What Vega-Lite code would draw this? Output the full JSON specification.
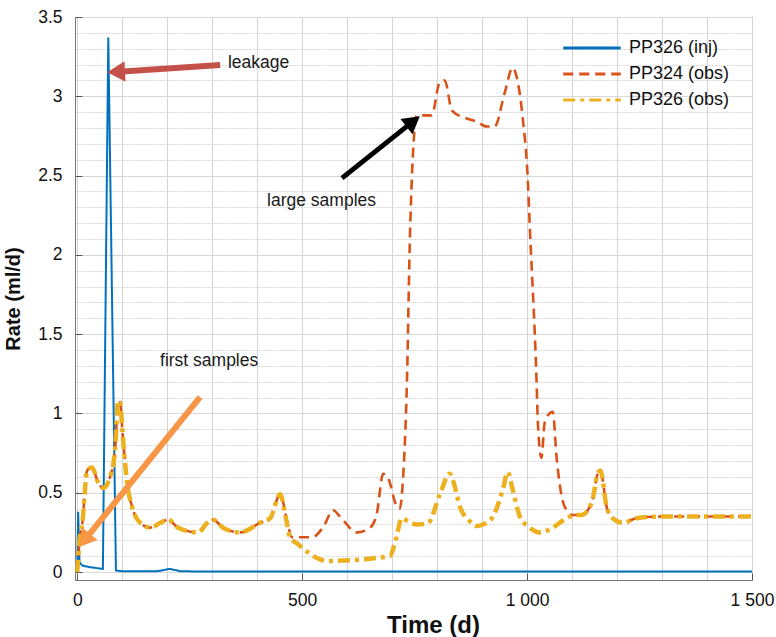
{
  "$schema": "https://vega.github.io/schema/vega-lite/v6.json",
  "width": 677,
  "height": 563,
  "autosize": {"type": "none"},
  "padding": {"left": 75, "top": 17, "right": 24, "bottom": 57},
  "background": "white",
  "config": {
    "font": "Liberation Sans",
    "view": {"stroke": "#8a8a8a", "strokeWidth": 1}
  },
  "datasets": {
    "lines": [
      {"series": "PP326 (inj)", "t": 0, "rate": 0},
      {"series": "PP326 (inj)", "t": 2, "rate": 0.38},
      {"series": "PP326 (inj)", "t": 5, "rate": 0.06},
      {"series": "PP326 (inj)", "t": 12, "rate": 0.04},
      {"series": "PP326 (inj)", "t": 30, "rate": 0.03},
      {"series": "PP326 (inj)", "t": 57, "rate": 0.02},
      {"series": "PP326 (inj)", "t": 69, "rate": 3.37},
      {"series": "PP326 (inj)", "t": 86, "rate": 0.01},
      {"series": "PP326 (inj)", "t": 100, "rate": 0.005},
      {"series": "PP326 (inj)", "t": 180, "rate": 0.006},
      {"series": "PP326 (inj)", "t": 205, "rate": 0.02},
      {"series": "PP326 (inj)", "t": 230, "rate": 0.005},
      {"series": "PP326 (inj)", "t": 300, "rate": 0.003},
      {"series": "PP326 (inj)", "t": 1500, "rate": 0.003},

      {"series": "PP324 (obs)", "t": 0, "rate": 0},
      {"series": "PP324 (obs)", "t": 5, "rate": 0.2},
      {"series": "PP324 (obs)", "t": 11, "rate": 0.3},
      {"series": "PP324 (obs)", "t": 22, "rate": 0.64},
      {"series": "PP324 (obs)", "t": 33, "rate": 0.66},
      {"series": "PP324 (obs)", "t": 47, "rate": 0.56},
      {"series": "PP324 (obs)", "t": 58, "rate": 0.53},
      {"series": "PP324 (obs)", "t": 73, "rate": 0.6},
      {"series": "PP324 (obs)", "t": 84, "rate": 0.77},
      {"series": "PP324 (obs)", "t": 91, "rate": 1.08},
      {"series": "PP324 (obs)", "t": 95, "rate": 1.07},
      {"series": "PP324 (obs)", "t": 102, "rate": 0.83},
      {"series": "PP324 (obs)", "t": 111, "rate": 0.56},
      {"series": "PP324 (obs)", "t": 122, "rate": 0.41},
      {"series": "PP324 (obs)", "t": 140, "rate": 0.31},
      {"series": "PP324 (obs)", "t": 162, "rate": 0.28},
      {"series": "PP324 (obs)", "t": 191, "rate": 0.32},
      {"series": "PP324 (obs)", "t": 202, "rate": 0.33},
      {"series": "PP324 (obs)", "t": 224, "rate": 0.28},
      {"series": "PP324 (obs)", "t": 269, "rate": 0.25},
      {"series": "PP324 (obs)", "t": 289, "rate": 0.31},
      {"series": "PP324 (obs)", "t": 302, "rate": 0.33},
      {"series": "PP324 (obs)", "t": 324, "rate": 0.28},
      {"series": "PP324 (obs)", "t": 362, "rate": 0.25},
      {"series": "PP324 (obs)", "t": 406, "rate": 0.31},
      {"series": "PP324 (obs)", "t": 429, "rate": 0.34},
      {"series": "PP324 (obs)", "t": 451, "rate": 0.49},
      {"series": "PP324 (obs)", "t": 466, "rate": 0.33},
      {"series": "PP324 (obs)", "t": 477, "rate": 0.22},
      {"series": "PP324 (obs)", "t": 522, "rate": 0.22},
      {"series": "PP324 (obs)", "t": 546, "rate": 0.28},
      {"series": "PP324 (obs)", "t": 569, "rate": 0.39},
      {"series": "PP324 (obs)", "t": 584, "rate": 0.35},
      {"series": "PP324 (obs)", "t": 622, "rate": 0.25},
      {"series": "PP324 (obs)", "t": 651, "rate": 0.28},
      {"series": "PP324 (obs)", "t": 666, "rate": 0.37},
      {"series": "PP324 (obs)", "t": 680, "rate": 0.62},
      {"series": "PP324 (obs)", "t": 690, "rate": 0.6},
      {"series": "PP324 (obs)", "t": 711, "rate": 0.41},
      {"series": "PP324 (obs)", "t": 717, "rate": 0.4},
      {"series": "PP324 (obs)", "t": 724, "rate": 0.58},
      {"series": "PP324 (obs)", "t": 733, "rate": 1.21},
      {"series": "PP324 (obs)", "t": 740, "rate": 2.16},
      {"series": "PP324 (obs)", "t": 755, "rate": 2.88},
      {"series": "PP324 (obs)", "t": 788, "rate": 2.88},
      {"series": "PP324 (obs)", "t": 806, "rate": 3.09},
      {"series": "PP324 (obs)", "t": 817, "rate": 3.1},
      {"series": "PP324 (obs)", "t": 833, "rate": 2.91},
      {"series": "PP324 (obs)", "t": 866, "rate": 2.86},
      {"series": "PP324 (obs)", "t": 888, "rate": 2.84},
      {"series": "PP324 (obs)", "t": 910, "rate": 2.81},
      {"series": "PP324 (obs)", "t": 928, "rate": 2.81},
      {"series": "PP324 (obs)", "t": 950, "rate": 3.02},
      {"series": "PP324 (obs)", "t": 968, "rate": 3.18},
      {"series": "PP324 (obs)", "t": 977, "rate": 3.12},
      {"series": "PP324 (obs)", "t": 990, "rate": 2.87},
      {"series": "PP324 (obs)", "t": 1002, "rate": 2.45},
      {"series": "PP324 (obs)", "t": 1006, "rate": 2.18},
      {"series": "PP324 (obs)", "t": 1021, "rate": 1.21},
      {"series": "PP324 (obs)", "t": 1024, "rate": 0.94},
      {"series": "PP324 (obs)", "t": 1032, "rate": 0.72},
      {"series": "PP324 (obs)", "t": 1039, "rate": 0.94},
      {"series": "PP324 (obs)", "t": 1050, "rate": 1.0},
      {"series": "PP324 (obs)", "t": 1057, "rate": 1.01},
      {"series": "PP324 (obs)", "t": 1066, "rate": 0.71},
      {"series": "PP324 (obs)", "t": 1079, "rate": 0.45},
      {"series": "PP324 (obs)", "t": 1088, "rate": 0.39},
      {"series": "PP324 (obs)", "t": 1101, "rate": 0.36},
      {"series": "PP324 (obs)", "t": 1110, "rate": 0.36},
      {"series": "PP324 (obs)", "t": 1121, "rate": 0.36},
      {"series": "PP324 (obs)", "t": 1144, "rate": 0.44},
      {"series": "PP324 (obs)", "t": 1157, "rate": 0.62},
      {"series": "PP324 (obs)", "t": 1163, "rate": 0.64},
      {"series": "PP324 (obs)", "t": 1177, "rate": 0.41},
      {"series": "PP324 (obs)", "t": 1190, "rate": 0.34},
      {"series": "PP324 (obs)", "t": 1213, "rate": 0.31},
      {"series": "PP324 (obs)", "t": 1243, "rate": 0.34},
      {"series": "PP324 (obs)", "t": 1300, "rate": 0.35},
      {"series": "PP324 (obs)", "t": 1500, "rate": 0.35},

      {"series": "PP326 (obs)", "t": 0, "rate": 0},
      {"series": "PP326 (obs)", "t": 5, "rate": 0.2},
      {"series": "PP326 (obs)", "t": 11, "rate": 0.3},
      {"series": "PP326 (obs)", "t": 22, "rate": 0.64},
      {"series": "PP326 (obs)", "t": 33, "rate": 0.66},
      {"series": "PP326 (obs)", "t": 47, "rate": 0.56},
      {"series": "PP326 (obs)", "t": 58, "rate": 0.53},
      {"series": "PP326 (obs)", "t": 73, "rate": 0.6},
      {"series": "PP326 (obs)", "t": 84, "rate": 0.77},
      {"series": "PP326 (obs)", "t": 91, "rate": 1.08},
      {"series": "PP326 (obs)", "t": 95, "rate": 1.07},
      {"series": "PP326 (obs)", "t": 102, "rate": 0.83},
      {"series": "PP326 (obs)", "t": 111, "rate": 0.56},
      {"series": "PP326 (obs)", "t": 122, "rate": 0.41},
      {"series": "PP326 (obs)", "t": 140, "rate": 0.31},
      {"series": "PP326 (obs)", "t": 162, "rate": 0.28},
      {"series": "PP326 (obs)", "t": 191, "rate": 0.32},
      {"series": "PP326 (obs)", "t": 202, "rate": 0.33},
      {"series": "PP326 (obs)", "t": 224, "rate": 0.28},
      {"series": "PP326 (obs)", "t": 269, "rate": 0.25},
      {"series": "PP326 (obs)", "t": 289, "rate": 0.31},
      {"series": "PP326 (obs)", "t": 302, "rate": 0.33},
      {"series": "PP326 (obs)", "t": 324, "rate": 0.28},
      {"series": "PP326 (obs)", "t": 362, "rate": 0.25},
      {"series": "PP326 (obs)", "t": 406, "rate": 0.31},
      {"series": "PP326 (obs)", "t": 429, "rate": 0.34},
      {"series": "PP326 (obs)", "t": 451, "rate": 0.49},
      {"series": "PP326 (obs)", "t": 466, "rate": 0.31},
      {"series": "PP326 (obs)", "t": 473, "rate": 0.22},
      {"series": "PP326 (obs)", "t": 489, "rate": 0.18},
      {"series": "PP326 (obs)", "t": 540, "rate": 0.08},
      {"series": "PP326 (obs)", "t": 555, "rate": 0.07},
      {"series": "PP326 (obs)", "t": 695, "rate": 0.1},
      {"series": "PP326 (obs)", "t": 706, "rate": 0.18},
      {"series": "PP326 (obs)", "t": 722, "rate": 0.34},
      {"series": "PP326 (obs)", "t": 735, "rate": 0.32},
      {"series": "PP326 (obs)", "t": 755, "rate": 0.3},
      {"series": "PP326 (obs)", "t": 780, "rate": 0.31},
      {"series": "PP326 (obs)", "t": 806, "rate": 0.49},
      {"series": "PP326 (obs)", "t": 828, "rate": 0.62},
      {"series": "PP326 (obs)", "t": 835, "rate": 0.58},
      {"series": "PP326 (obs)", "t": 851, "rate": 0.41},
      {"series": "PP326 (obs)", "t": 873, "rate": 0.32},
      {"series": "PP326 (obs)", "t": 888, "rate": 0.29},
      {"series": "PP326 (obs)", "t": 902, "rate": 0.3},
      {"series": "PP326 (obs)", "t": 924, "rate": 0.35},
      {"series": "PP326 (obs)", "t": 946, "rate": 0.52},
      {"series": "PP326 (obs)", "t": 957, "rate": 0.63},
      {"series": "PP326 (obs)", "t": 968, "rate": 0.52},
      {"series": "PP326 (obs)", "t": 984, "rate": 0.35},
      {"series": "PP326 (obs)", "t": 1006, "rate": 0.28},
      {"series": "PP326 (obs)", "t": 1028, "rate": 0.25},
      {"series": "PP326 (obs)", "t": 1057, "rate": 0.28},
      {"series": "PP326 (obs)", "t": 1088, "rate": 0.34},
      {"series": "PP326 (obs)", "t": 1110, "rate": 0.36},
      {"series": "PP326 (obs)", "t": 1121, "rate": 0.36},
      {"series": "PP326 (obs)", "t": 1144, "rate": 0.44},
      {"series": "PP326 (obs)", "t": 1157, "rate": 0.62},
      {"series": "PP326 (obs)", "t": 1163, "rate": 0.64},
      {"series": "PP326 (obs)", "t": 1177, "rate": 0.41},
      {"series": "PP326 (obs)", "t": 1190, "rate": 0.34},
      {"series": "PP326 (obs)", "t": 1213, "rate": 0.31},
      {"series": "PP326 (obs)", "t": 1243, "rate": 0.34},
      {"series": "PP326 (obs)", "t": 1300, "rate": 0.35},
      {"series": "PP326 (obs)", "t": 1500, "rate": 0.35}
    ],
    "arrows": [
      {"name": "leakage", "t": 317.6, "rate": 3.197, "t2": 93, "rate2": 3.155},
      {"name": "large", "t": 588.5, "rate": 2.484, "t2": 741.7, "rate2": 2.831},
      {"name": "first", "t": 273, "rate": 1.103, "t2": 20, "rate2": 0.214}
    ],
    "heads": [
      {"name": "leakage", "t": 93, "rate": 3.155},
      {"name": "large", "t": 741.7, "rate": 2.831},
      {"name": "first", "t": 20, "rate": 0.214}
    ],
    "labels": [
      {"label": "leakage", "t": 335, "rate": 3.21},
      {"label": "large samples", "t": 422, "rate": 2.34},
      {"label": "first samples", "t": 184, "rate": 1.33}
    ]
  },
  "encoding": {
    "x": {
      "field": "t",
      "type": "quantitative",
      "scale": {"domain": [-5, 1500], "nice": false, "zero": false},
      "axis": {
        "title": "Time (d)",
        "titleFontSize": 24,
        "titleFontWeight": "bold",
        "titleColor": "#111",
        "titlePadding": 5,
        "titleX": 358,
        "values": [0, 100, 200, 300, 400, 500, 600, 700, 800, 900, 1000, 1100, 1200, 1300, 1400, 1500],
        "labelExpr": "datum.value % 500 === 0 ? replace(format(datum.value, ','), ',', ' ') : ''",
        "labelFontSize": 17.5,
        "labelColor": "#111",
        "labelFlush": false,
        "labelPadding": 18,
        "tickSize": -7,
        "tickColor": "#555",
        "tickOpacity": {"condition": {"test": "datum.value % 500 === 0", "value": 1}, "value": 0},
        "domainColor": "#777",
        "grid": true,
        "gridColor": "#d4d4d4",
        "gridWidth": 1
      }
    },
    "y": {
      "field": "rate",
      "type": "quantitative",
      "scale": {"domain": [-0.05, 3.5], "nice": false, "zero": false},
      "axis": {
        "title": "Rate (ml/d)",
        "titleFontSize": 20,
        "titleFontWeight": "bold",
        "titleColor": "#111",
        "titlePadding": 14,
        "values": [0, 0.1, 0.2, 0.3, 0.4, 0.5, 0.6, 0.7, 0.8, 0.9, 1, 1.1, 1.2, 1.3, 1.4, 1.5, 1.6, 1.7, 1.8, 1.9, 2, 2.1, 2.2, 2.3, 2.4, 2.5, 2.6, 2.7, 2.8, 2.9, 3, 3.1, 3.2, 3.3, 3.4, 3.5],
        "labelExpr": "abs(datum.value * 2 - round(datum.value * 2)) < 1e-6 ? format(datum.value, '~g') : ''",
        "labelFontSize": 17.5,
        "labelColor": "#111",
        "labelFlush": false,
        "labelPadding": 20,
        "tickSize": -7,
        "tickColor": "#555",
        "tickOpacity": {"condition": {"test": "abs(datum.value * 2 - round(datum.value * 2)) < 1e-6", "value": 1}, "value": 0},
        "domainColor": "#777",
        "grid": true,
        "gridColor": "#d8d8d8",
        "gridDash": {"condition": {"test": "abs(datum.value * 2 - round(datum.value * 2)) < 1e-6", "value": []}, "value": [2, 1]},
        "gridWidth": 1
      }
    }
  },
  "layer": [
    {
      "data": {"name": "lines"},
      "transform": [{"filter": "datum.series === 'PP326 (inj)'"}],
      "mark": {"type": "line", "strokeWidth": 2, "interpolate": "linear"},
      "encoding": {
        "color": {
          "field": "series", "type": "nominal",
          "scale": {"domain": ["PP326 (inj)", "PP324 (obs)", "PP326 (obs)"], "range": ["#0072BD", "#D95319", "#EDB120"]},
          "legend": {
            "title": null, "orient": "none", "legendX": 504, "legendY": 18,
            "symbolType": "M-2.5,0H2.5", "symbolSize": 529, "symbolStrokeWidth": 3,
            "labelFontSize": 18, "labelColor": "#111", "labelFont": "Liberation Sans",
            "rowPadding": 4, "labelOffset": 24
          }
        },
        "strokeDash": {
          "field": "series", "type": "nominal",
          "scale": {"domain": ["PP326 (inj)", "PP324 (obs)", "PP326 (obs)"], "range": [[1, 0], [10, 6], [12, 5, 4, 5]]},
          "legend": {
            "title": null, "orient": "none", "legendX": 504, "legendY": 18,
            "symbolType": "M-2.5,0H2.5", "symbolSize": 529, "symbolStrokeWidth": 3,
            "labelFontSize": 18, "labelColor": "#111", "labelFont": "Liberation Sans",
            "rowPadding": 4, "labelOffset": 24
          }
        }
      }
    },
    {
      "data": {"name": "lines"},
      "transform": [{"filter": "datum.series === 'PP324 (obs)'"}],
      "mark": {"type": "line", "strokeWidth": 2.6, "interpolate": "monotone"},
      "encoding": {
        "color": {"field": "series", "type": "nominal"},
        "strokeDash": {"field": "series", "type": "nominal"}
      }
    },
    {
      "data": {"name": "lines"},
      "transform": [{"filter": "datum.series === 'PP326 (obs)'"}],
      "mark": {"type": "line", "strokeWidth": 4.5, "interpolate": "monotone"},
      "encoding": {
        "color": {"field": "series", "type": "nominal"},
        "strokeDash": {"field": "series", "type": "nominal"}
      }
    },
    {
      "data": {"name": "arrows"},
      "transform": [{"filter": "datum.name === 'leakage'"}],
      "mark": {"type": "rule", "color": "#C4504A", "strokeWidth": 6},
      "encoding": {"x2": {"field": "t2"}, "y2": {"field": "rate2"}}
    },
    {
      "data": {"name": "heads"},
      "transform": [{"filter": "datum.name === 'leakage'"}],
      "mark": {"type": "point", "shape": "triangle", "filled": true, "opacity": 1, "color": "#C4504A", "size": 420, "angle": 267},
      "encoding": {}
    },
    {
      "data": {"name": "arrows"},
      "transform": [{"filter": "datum.name === 'large'"}],
      "mark": {"type": "rule", "color": "#000000", "strokeWidth": 5},
      "encoding": {"x2": {"field": "t2"}, "y2": {"field": "rate2"}}
    },
    {
      "data": {"name": "heads"},
      "transform": [{"filter": "datum.name === 'large'"}],
      "mark": {"type": "point", "shape": "triangle", "filled": true, "opacity": 1, "color": "#000000", "size": 380, "angle": 52},
      "encoding": {}
    },
    {
      "data": {"name": "arrows"},
      "transform": [{"filter": "datum.name === 'first'"}],
      "mark": {"type": "rule", "color": "#F79646", "strokeWidth": 6},
      "encoding": {"x2": {"field": "t2"}, "y2": {"field": "rate2"}}
    },
    {
      "data": {"name": "heads"},
      "transform": [{"filter": "datum.name === 'first'"}],
      "mark": {"type": "point", "shape": "triangle", "filled": true, "opacity": 1, "color": "#F79646", "size": 380, "angle": 219},
      "encoding": {}
    },
    {
      "data": {"name": "labels"},
      "mark": {"type": "text", "align": "left", "baseline": "middle", "fontSize": 17.5, "font": "Liberation Sans", "color": "#1a1a1a"},
      "encoding": {"text": {"field": "label"}}
    }
  ]
}
